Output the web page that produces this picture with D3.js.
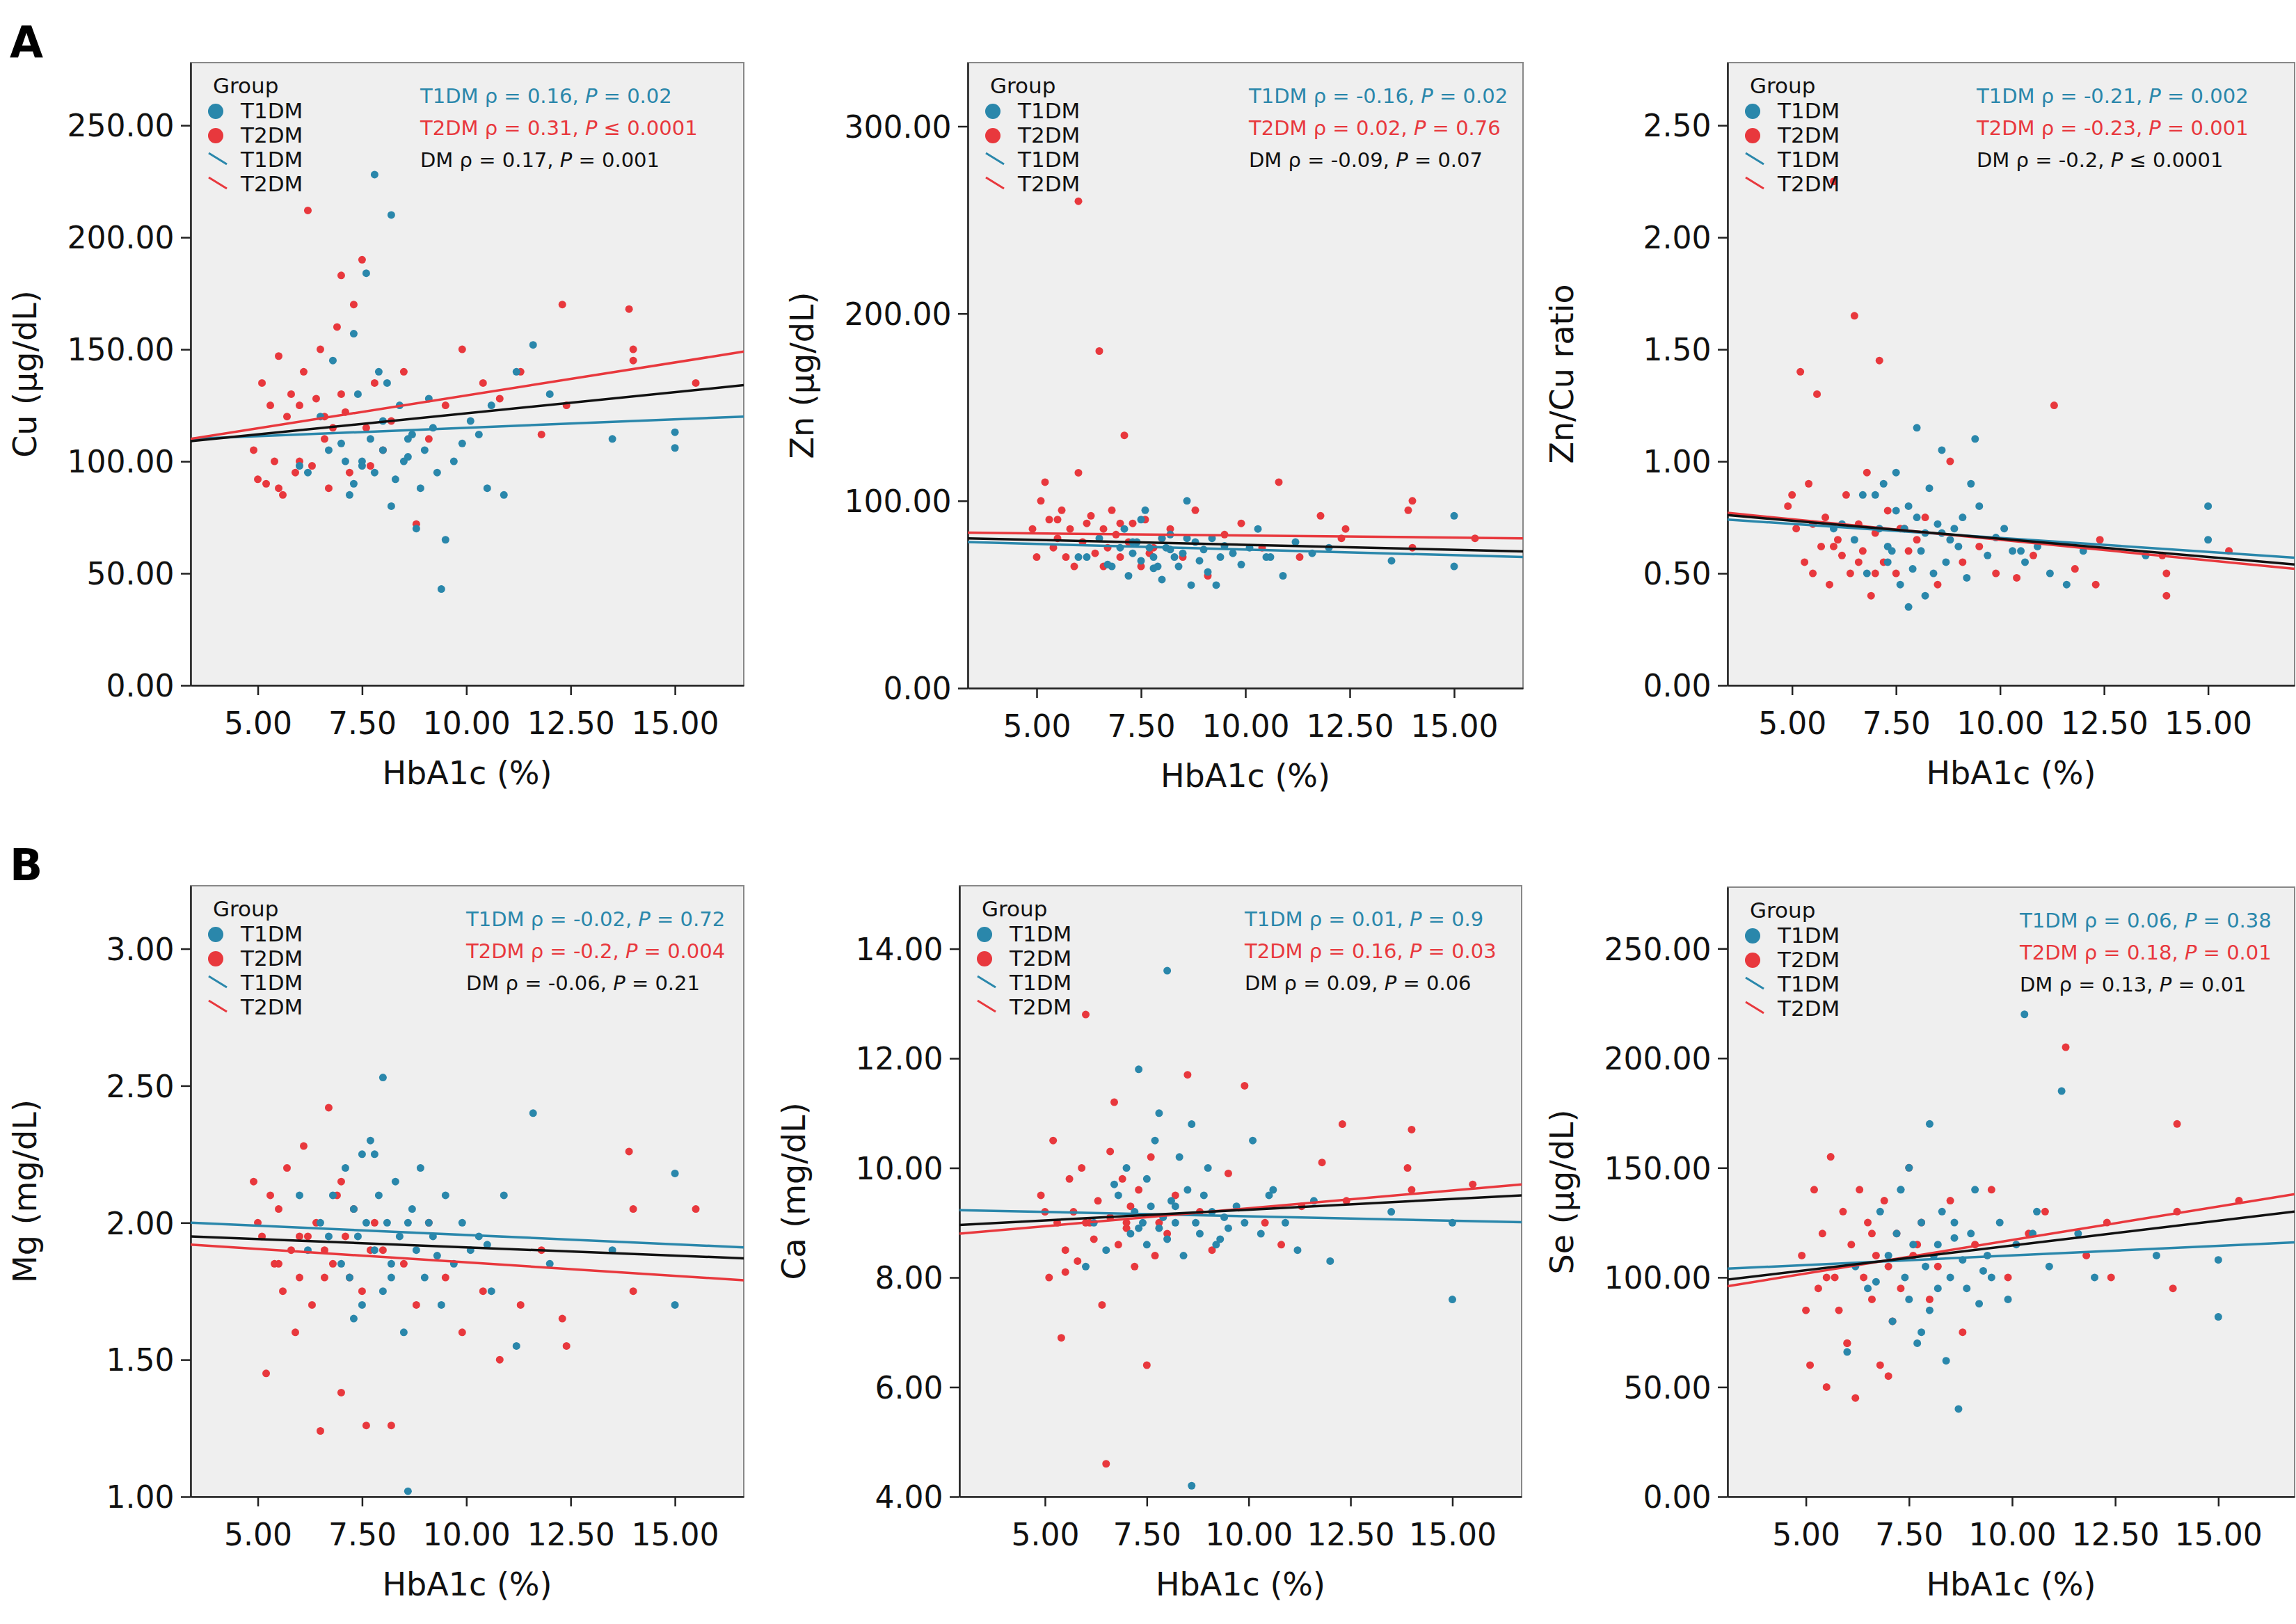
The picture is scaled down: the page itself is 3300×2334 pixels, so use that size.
<!DOCTYPE html>
<html><head><meta charset="utf-8">
<script src="https://cdn.jsdelivr.net/npm/d3@7"></script>
<style>body{margin:0;background:#fff}text{font-family:"DejaVu Sans",Verdana,sans-serif}</style>
</head><body><svg id="chart" width="3300" height="2334"></svg>
<script>
// HbA1c (%) per patient, shared by all six panels
const t1X = [6.2,6.5,6.8,7.0,7.1,7.2,7.3,7.4,7.5,7.5,7.6,7.7,7.8,7.9,8.0,8.0,8.1,8.2,8.3,8.4,8.5,8.6,8.7,8.8,8.9,9.0,9.1,9.2,9.4,9.5,9.7,9.9,10.1,10.3,10.6,10.9,11.2,11.6,12.0,13.5,15.0,6.0,6.7,7.3,7.8,8.2,8.6,9.3,10.5,15.0];
const t2X = [4.9,5.1,5.2,5.3,5.4,5.5,5.6,5.7,5.8,5.9,6.0,6.1,6.2,6.3,6.4,6.5,6.6,6.7,6.8,6.9,7.0,7.1,7.2,7.3,7.5,7.6,7.8,8.0,8.2,8.5,8.8,9.1,9.5,9.9,10.4,10.8,11.3,11.8,12.3,12.4,13.9,14.0,14.0,15.5,5.0,5.5,6.0,6.6,7.0,7.7];

const cuT1 = [95,120,145,108,100,85,157,130,100,98,184,110,95,140,105,118,135,80,92,125,100,110,112,70,88,105,128,115,43,65,100,108,118,112,125,85,140,152,130,110,113,98,105,90,228,210,102,95,88,106];
const cuT2 = [105,135,90,125,100,147,85,120,130,95,125,140,212,98,128,150,110,88,115,160,130,122,95,170,190,115,135,105,118,140,72,110,125,150,135,128,140,112,170,125,168,150,145,135,92,88,100,120,183,98];
const znT1 = [70,80,65,75,85,60,72,78,68,90,95,75,70,65,80,58,75,82,70,65,72,100,55,78,68,74,62,80,70,76,72,66,75,85,70,60,78,72,75,68,92,70,66,78,64,74,80,55,70,65];
const znT2 = [85,100,110,90,75,80,95,70,85,65,260,78,88,92,72,180,85,75,95,82,70,135,78,88,65,90,75,80,85,70,95,60,82,88,75,110,70,92,80,85,95,75,100,80,70,90,115,65,88,72];
const ratioT1 = [0.72,0.65,0.5,0.85,0.7,0.9,0.55,0.6,0.78,0.95,0.45,0.7,0.8,0.52,0.75,1.15,0.6,0.68,0.88,0.5,0.72,1.05,0.55,0.65,0.7,0.62,0.75,0.48,1.1,0.8,0.58,0.66,0.7,0.6,0.55,0.62,0.5,0.45,0.6,0.58,0.8,0.7,0.85,0.62,0.35,0.4,0.68,0.9,0.6,0.65];
const ratioT2 = [0.8,0.7,1.4,0.55,0.9,0.5,1.3,0.62,0.75,0.45,2.25,0.65,0.58,0.85,0.5,1.65,0.72,0.6,0.95,0.4,0.68,1.45,0.55,0.78,0.5,0.7,0.6,0.65,0.75,0.45,1.0,0.55,0.62,0.5,0.48,0.58,1.25,0.52,0.45,0.65,0.58,0.4,0.5,0.6,0.85,0.72,0.62,0.55,0.5,0.7];
const mgT1 = [1.9,2.0,2.1,1.85,2.2,1.8,2.05,1.95,2.25,1.7,2.0,2.3,1.9,2.1,1.75,2.53,2.0,1.85,2.15,1.95,1.6,1.02,2.05,1.9,2.2,1.8,2.0,1.95,1.7,2.1,1.85,2.0,1.9,1.95,1.75,2.1,1.55,2.4,1.85,1.9,2.18,2.1,1.95,1.65,2.25,1.8,2.0,1.88,1.92,1.7];
const mgT2 = [2.15,1.95,1.45,2.1,1.85,2.05,1.75,2.2,1.9,1.6,1.8,2.28,1.95,1.7,2.0,1.24,1.9,2.42,1.85,2.1,1.38,1.95,1.8,2.05,1.75,1.26,2.0,1.9,1.26,1.85,1.7,2.0,1.8,1.6,1.75,1.5,1.7,1.9,1.65,1.55,2.26,1.75,2.05,2.05,2.0,1.85,1.95,1.8,2.15,1.9];
const caT1 = [9.0,8.5,9.5,10.0,8.8,9.2,11.8,9.0,8.6,9.8,9.3,10.5,8.9,9.1,13.6,8.7,9.4,9.0,10.2,8.4,9.6,4.2,9.0,8.8,9.5,10.0,9.2,8.6,9.1,8.9,9.3,9.0,10.5,8.8,9.6,9.0,8.5,9.4,8.3,9.2,7.6,8.2,9.7,8.9,11.0,9.3,10.8,8.7,9.5,9.0];
const caT2 = [9.5,8.0,10.5,9.0,6.9,8.5,9.8,9.2,8.3,10.0,12.8,9.0,8.7,9.4,7.5,4.6,9.1,11.2,8.6,9.8,8.9,9.3,8.2,9.6,6.4,10.2,9.0,8.8,9.5,11.7,9.2,8.5,9.9,11.5,9.0,8.6,9.3,10.1,10.8,9.4,10.0,10.7,9.6,9.7,9.2,8.1,9.0,10.3,9.0,8.4];
const seT1 = [105,95,130,110,80,120,140,100,90,150,115,70,125,105,170,85,110,95,130,62,100,118,40,108,95,120,140,88,110,100,125,90,115,220,130,105,185,120,100,110,82,66,98,140,75,115,125,103,120,108];
const seT2 = [110,60,140,95,120,50,155,100,85,130,70,115,45,140,100,125,90,110,60,135,105,80,120,95,150,110,125,90,105,135,75,115,140,100,120,130,205,110,125,100,95,170,130,135,85,100,70,120,55,115];

// fit lines: value at left and right edge of x domain [T1DM, T2DM, DM]
const cuFit = [[110,120],[110,149],[109,134]];
const znFit = [[78,70],[83,80],[80,73]];
const ratioFit = [[0.74,0.57],[0.77,0.52],[0.76,0.54]];
const mgFit = [[2.0,1.91],[1.92,1.79],[1.95,1.87]];
const caFit = [[9.23,9.01],[8.8,9.7],[8.96,9.5]];
const seFit = [[104,116],[96,138],[99,130]];

const stats = [
  [['0.16','0.02'],['0.31','≤ 0.0001'],['0.17','0.001']],
  [['-0.16','0.02'],['0.02','0.76'],['-0.09','0.07']],
  [['-0.21','0.002'],['-0.23','0.001'],['-0.2','≤ 0.0001']],
  [['-0.02','0.72'],['-0.2','0.004'],['-0.06','0.21']],
  [['0.01','0.9'],['0.16','0.03'],['0.09','0.06']],
  [['0.06','0.38'],['0.18','0.01'],['0.13','0.01']]
];
const xTicks = [5, 7.5, 10, 12.5, 15];

const panels = [
  {t1: cuT1, t2: cuT2, fit: cuFit, title: 'Cu (μg/dL)', yd: [0,278], yt: [0,50,100,150,200,250], box: [274,90,1069,985], xd: [3.39,16.65], sx: 330},
  {t1: znT1, t2: znT2, fit: znFit, title: 'Zn (μg/dL)', yd: [0,334], yt: [0,100,200,300], box: [1391,90,2189,989], xd: [3.35,16.65], sx: 404},
  {t1: ratioT1, t2: ratioT2, fit: ratioFit, title: 'Zn/Cu ratio', yd: [0,2.78], yt: [0,0.5,1,1.5,2,2.5], box: [2483,90,3298,985], xd: [3.45,17.08], sx: 358},
  {t1: mgT1, t2: mgT2, fit: mgFit, title: 'Mg (mg/dL)', yd: [1,3.23], yt: [1,1.5,2,2.5,3], box: [274,1273,1069,2151], xd: [3.39,16.65], sx: 396},
  {t1: caT1, t2: caT2, fit: caFit, title: 'Ca (mg/dL)', yd: [4,15.15], yt: [4,6,8,10,12,14], box: [1379,1273,2187,2151], xd: [2.9,16.7], sx: 410},
  {t1: seT1, t2: seT2, fit: seFit, title: 'Se (μg/dL)', yd: [0,278], yt: [0,50,100,150,200,250], box: [2483,1275,3298,2151], xd: [3.1,16.85], sx: 420}
];

const blue = '#2a87ab', red = '#e8383d';
const svg = d3.select('#chart');

svg.append('text').attr('x', 14).attr('y', 82).attr('font-size', 62).attr('font-weight', 'bold').text('A');
svg.append('text').attr('x', 14).attr('y', 1265).attr('font-size', 62).attr('font-weight', 'bold').text('B');

panels.forEach((p, i) => {
  const [x0, y0, x1, y1] = p.box;
  const x = d3.scaleLinear().domain(p.xd).range([x0, x1]);
  const y = d3.scaleLinear().domain(p.yd).range([y1, y0]);
  const g = svg.append('g');

  g.append('rect').attr('x', x0).attr('y', y0).attr('width', x1 - x0).attr('height', y1 - y0)
    .attr('fill', '#efefef').attr('stroke', '#888').attr('stroke-width', 2);

  const xa = g.append('g').attr('transform', 'translate(0,' + y1 + ')')
    .call(d3.axisBottom(x).tickValues(xTicks).tickFormat(d3.format('.2f')).tickSize(14).tickSizeOuter(0));
  const ya = g.append('g').attr('transform', 'translate(' + x0 + ',0)')
    .call(d3.axisLeft(y).tickValues(p.yt).tickFormat(d3.format('.2f')).tickSize(14).tickSizeOuter(0));
  [xa, ya].forEach(a => {
    a.select('.domain').attr('stroke', '#222').attr('stroke-width', 2.5);
    a.selectAll('.tick line').attr('stroke', '#222').attr('stroke-width', 2.5);
    a.selectAll('.tick text').attr('font-size', 44).attr('fill', '#111').attr('font-family', '"DejaVu Sans",Verdana,sans-serif');
  });
  xa.selectAll('.tick text').attr('dy', '1.2em');
  ya.selectAll('.tick text').attr('dx', '-0.15em').attr('dy', '0.36em');

  g.append('text').attr('x', (x0 + x1) / 2).attr('y', y1 + 142).attr('text-anchor', 'middle')
    .attr('font-size', 46).attr('fill', '#111').text('HbA1c (%)');
  g.append('text').attr('transform', 'translate(' + (x0 - 222) + ',' + (y0 + y1) / 2 + ') rotate(-90)')
    .attr('text-anchor', 'middle').attr('font-size', 46).attr('fill', '#111').text(p.title);

  const clip = 'clip' + i;
  g.append('clipPath').attr('id', clip).append('rect')
    .attr('x', x0).attr('y', y0).attr('width', x1 - x0).attr('height', y1 - y0);
  const plot = g.append('g').attr('clip-path', 'url(#' + clip + ')');

  plot.selectAll('.p2').data(t2X.map((v, k) => [v, p.t2[k]])).enter().append('circle')
    .attr('cx', d => x(d[0])).attr('cy', d => y(d[1])).attr('r', 5.5).attr('fill', red);
  plot.selectAll('.p1').data(t1X.map((v, k) => [v, p.t1[k]])).enter().append('circle')
    .attr('cx', d => x(d[0])).attr('cy', d => y(d[1])).attr('r', 5.5).attr('fill', blue);

  [blue, red, '#111'].forEach((c, k) => {
    plot.append('line').attr('x1', x(p.xd[0])).attr('x2', x(p.xd[1]))
      .attr('y1', y(p.fit[k][0])).attr('y2', y(p.fit[k][1]))
      .attr('stroke', c).attr('stroke-width', 3.5);
  });

  // legend
  const lg = g.append('g').attr('transform', 'translate(' + (x0 + 32) + ',' + (y0 + 44) + ')');
  lg.append('text').attr('x', 0).attr('y', 0).attr('font-size', 31).attr('fill', '#111').text('Group');
  const items = [['dot', blue, 'T1DM'], ['dot', red, 'T2DM'], ['line', blue, 'T1DM'], ['line', red, 'T2DM']];
  items.forEach((it, k) => {
    const cy = 36 + k * 35;
    if (it[0] === 'dot') {
      lg.append('circle').attr('cx', 4).attr('cy', cy - 10).attr('r', 11).attr('fill', it[1]);
    } else {
      lg.append('line').attr('x1', -6).attr('x2', 20).attr('y1', cy - 20).attr('y2', cy - 4)
        .attr('stroke', it[1]).attr('stroke-width', 3);
    }
    lg.append('text').attr('x', 40).attr('y', cy).attr('font-size', 31).attr('fill', '#111').text(it[2]);
  });

  // correlation stats
  const labels = [['T1DM', blue], ['T2DM', red], ['DM', '#111']];
  labels.forEach((l, k) => {
    const s = stats[i][k];
    const t = g.append('text').attr('x', x0 + p.sx).attr('y', y0 + 58 + k * 46)
      .attr('font-size', 29).attr('fill', l[1]);
    t.append('tspan').text(l[0] + ' ρ = ' + s[0] + ', ');
    t.append('tspan').attr('font-style', 'italic').text('P');
    t.append('tspan').text(s[1].startsWith('≤') ? ' ' + s[1] : ' = ' + s[1]);
  });
});
</script></body></html>
